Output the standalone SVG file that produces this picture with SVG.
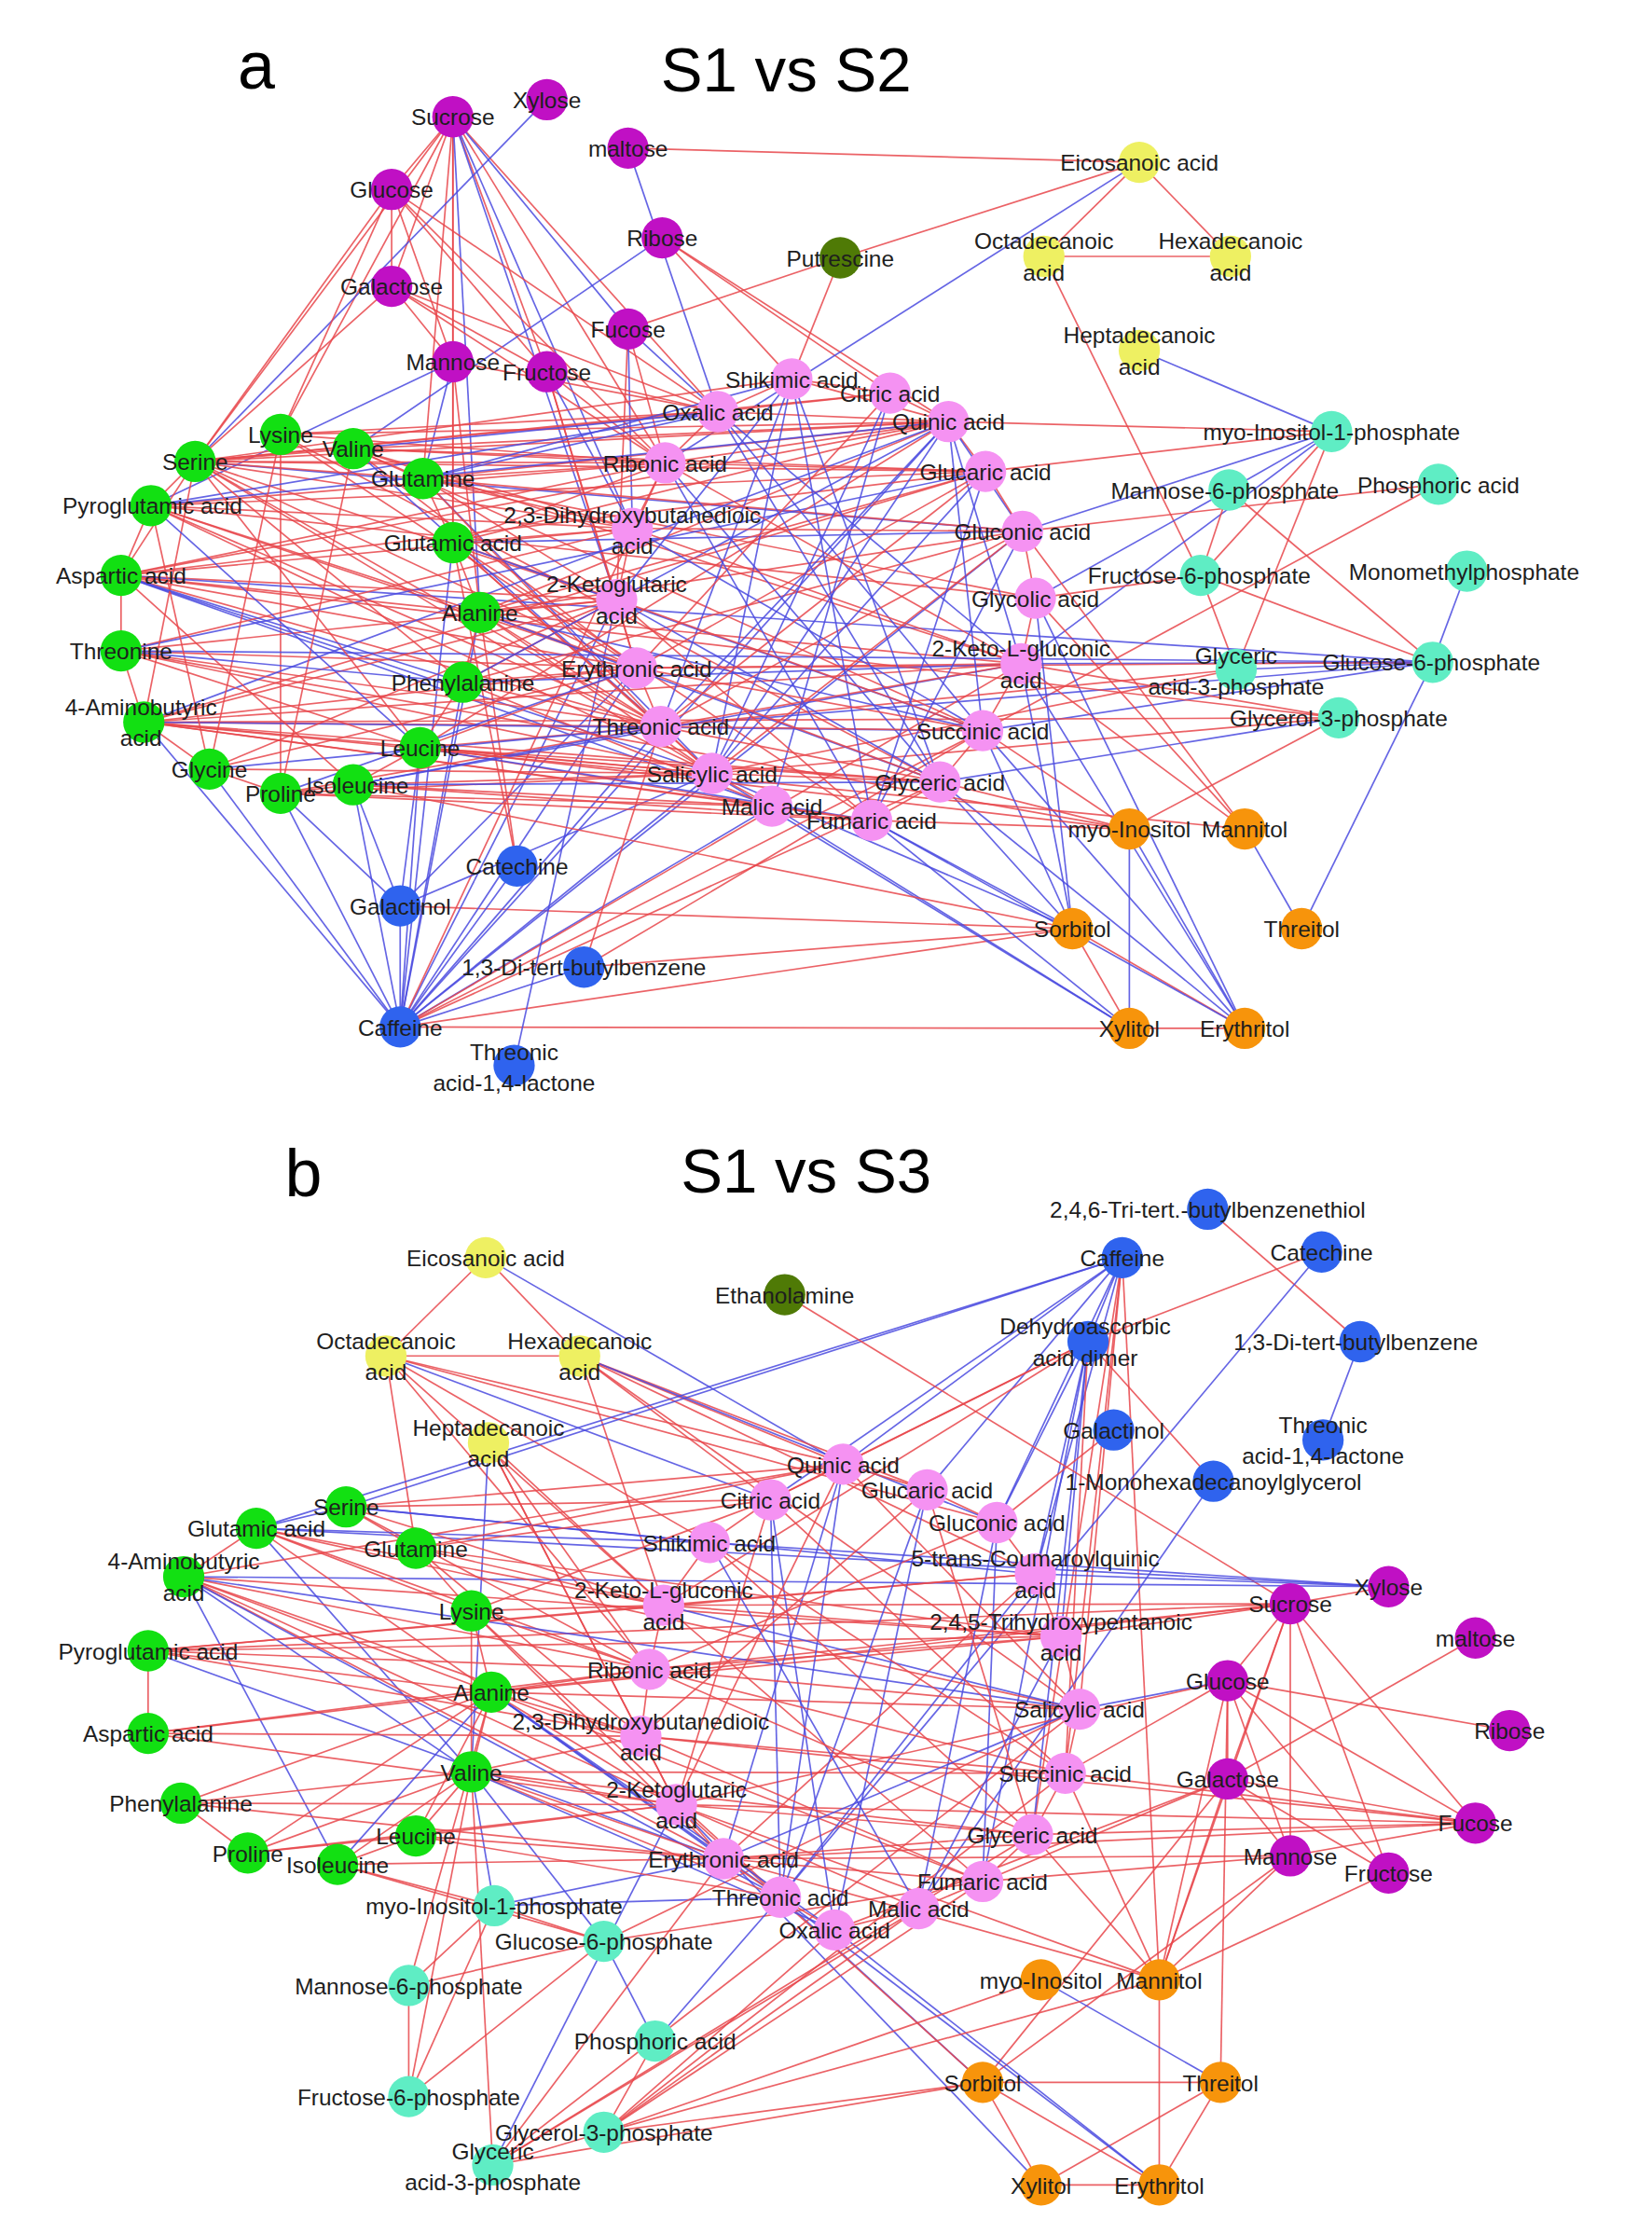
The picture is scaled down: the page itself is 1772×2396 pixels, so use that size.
<svg xmlns="http://www.w3.org/2000/svg" width="1772" height="2396" viewBox="0 0 1772 2396">
<style>
.r{stroke:#E8474B;stroke-opacity:.85;stroke-width:1.1;fill:none}
.b{stroke:#4A4ADF;stroke-opacity:.85;stroke-width:1.1;fill:none}
circle{stroke:none}
.mg{fill:#C010C4}.pk{fill:#F592F2}.gr{fill:#12E012}.bl{fill:#2F63EE}.or{fill:#F7940B}.cy{fill:#5FEDC4}.ye{fill:#EEF062}.dg{fill:#4F7A06}
text{font-family:"Liberation Sans",Arial,Helvetica,sans-serif;font-size:16px;fill:#1e1e1e;text-anchor:middle}
.t{font-size:44px;fill:#000}
</style>
<rect width="1772" height="2396" fill="#fff"/>
<g transform="scale(1.5276)">
<text class="t" x="180" y="62" style="font-size:47px">a</text>
<text class="t" x="552" y="64">S1 vs S2</text>
<text class="t" x="213" y="840" style="font-size:47px">b</text>
<text class="t" x="566" y="837">S1 vs S3</text>

<g id="edges-a">
<path class="r" d="M318 82L275 133"/><path class="r" d="M318 82L275 201"/><path class="r" d="M318 82L318 254"/><path class="r" d="M318 82L384 261"/><path class="r" d="M318 82L137 324"/><path class="r" d="M318 82L197 305"/><path class="r" d="M318 82L297 336"/><path class="r" d="M318 82L504 289"/><path class="r" d="M318 82L467 325"/><path class="r" d="M318 82L318 381"/>
<path class="b" d="M318 82L441 231"/><path class="b" d="M318 82L444 371"/><path class="b" d="M318 82L433 421"/><path class="b" d="M318 82L337 430"/>
<path class="b" d="M384 70L137 324"/><path class="r" d="M441 104L800 114"/><path class="b" d="M441 104L504 289"/>
<path class="r" d="M275 133L137 324"/><path class="r" d="M275 133L197 305"/><path class="r" d="M275 133L275 201"/><path class="r" d="M275 133L318 254"/><path class="r" d="M275 133L384 261"/><path class="r" d="M275 133L504 289"/><path class="r" d="M275 133L467 325"/>
<path class="b" d="M465 167L248 315"/><path class="r" d="M465 167L556 266"/><path class="r" d="M465 167L666 296"/><path class="r" d="M465 167L625 276"/>
<path class="r" d="M275 201L318 254"/><path class="r" d="M275 201L384 261"/><path class="r" d="M275 201L504 289"/><path class="r" d="M275 201L467 325"/><path class="r" d="M275 201L137 324"/>
<path class="r" d="M441 231L590 181"/><path class="b" d="M441 231L504 289"/><path class="r" d="M441 231L467 325"/><path class="r" d="M441 231L433 421"/><path class="b" d="M441 231L444 371"/>
<path class="b" d="M318 254L297 336"/><path class="r" d="M318 254L318 381"/><path class="r" d="M318 254L337 430"/><path class="b" d="M318 254L106 355"/><path class="r" d="M318 254L504 289"/>
<path class="r" d="M384 261L504 289"/><path class="b" d="M384 261L444 371"/><path class="r" d="M384 261L467 325"/><path class="r" d="M384 261L447 469"/><path class="r" d="M384 261L433 421"/>
<path class="r" d="M590 181L800 114"/><path class="r" d="M590 181L556 266"/>
<path class="r" d="M800 114L733 180"/><path class="r" d="M800 114L864 180"/><path class="b" d="M800 114L467 325"/>
<path class="r" d="M733 180L864 180"/><path class="r" d="M733 180L843 404"/><path class="b" d="M800 246L935 303"/>
<path class="r" d="M935 303L666 296"/><path class="r" d="M935 303L692 331"/><path class="b" d="M935 303L863 344"/><path class="b" d="M935 303L718 373"/><path class="r" d="M935 303L843 404"/><path class="b" d="M935 303L717 466"/><path class="r" d="M935 303L868 470"/>
<path class="r" d="M863 344L843 404"/><path class="r" d="M863 344L1006 465"/><path class="b" d="M863 344L727 420"/>
<path class="r" d="M1010 340L718 373"/><path class="r" d="M1010 340L690 513"/><path class="b" d="M1030 401L1006 465"/>
<path class="r" d="M843 404L868 470"/><path class="r" d="M843 404L1006 465"/><path class="r" d="M843 404L727 420"/>
<path class="b" d="M1006 465L868 470"/><path class="b" d="M1006 465L914 652"/><path class="b" d="M1006 465L717 466"/><path class="b" d="M1006 465L464 510"/><path class="r" d="M1006 465L447 469"/><path class="b" d="M1006 465L690 513"/>
<path class="r" d="M940 504L717 466"/><path class="r" d="M940 504L793 582"/><path class="r" d="M940 504L500 543"/><path class="b" d="M940 504L660 549"/><path class="r" d="M940 504L101 507"/>
<path class="r" d="M868 470L464 510"/><path class="r" d="M868 470L500 543"/>
<path class="b" d="M793 582L793 722"/><path class="b" d="M793 582L874 722"/><path class="b" d="M874 582L914 652"/>
<path class="r" d="M874 582L727 420"/><path class="r" d="M874 582L717 466"/><path class="r" d="M874 582L718 373"/>
<path class="r" d="M753 652L793 722"/><path class="r" d="M753 652L874 722"/><path class="r" d="M793 722L874 722"/><path class="r" d="M281 721L793 722"/>
<path class="r" d="M753 652L281 636"/><path class="r" d="M753 652L281 721"/><path class="r" d="M753 652L410 679"/>
<path class="r" d="M793 582L660 549"/><path class="r" d="M793 582L612 576"/><path class="r" d="M793 582L690 513"/>
<path class="b" d="M753 652L660 549"/><path class="b" d="M753 652L690 513"/><path class="b" d="M753 652L612 576"/><path class="b" d="M753 652L717 466"/><path class="b" d="M753 652L727 420"/><path class="b" d="M753 652L500 543"/>
<path class="b" d="M874 722L660 549"/><path class="b" d="M874 722L612 576"/><path class="b" d="M874 722L690 513"/><path class="b" d="M874 722L717 466"/><path class="b" d="M874 722L727 420"/>
<path class="b" d="M793 722L612 576"/><path class="b" d="M793 722L542 566"/><path class="b" d="M793 722L500 543"/>
<path class="b" d="M281 721L281 636"/><path class="b" d="M281 721L363 608"/><path class="b" d="M281 721L410 679"/><path class="b" d="M281 721L147 540"/><path class="b" d="M281 721L197 557"/><path class="b" d="M281 721L248 551"/><path class="b" d="M281 721L295 525"/><path class="b" d="M281 721L325 479"/><path class="b" d="M281 721L337 430"/><path class="b" d="M281 721L318 381"/><path class="b" d="M281 721L447 469"/><path class="b" d="M281 721L464 510"/><path class="b" d="M281 721L500 543"/><path class="b" d="M281 721L433 421"/><path class="b" d="M281 721L718 373"/><path class="b" d="M281 721L542 566"/><path class="b" d="M281 721L666 296"/><path class="b" d="M281 721L101 507"/>
<path class="r" d="M281 721L717 466"/><path class="r" d="M281 721L690 513"/><path class="r" d="M281 721L467 325"/><path class="r" d="M281 721L660 549"/>
<path class="b" d="M281 636L197 557"/><path class="b" d="M281 636L248 551"/><path class="b" d="M281 636L295 525"/><path class="b" d="M281 636L500 543"/><path class="b" d="M281 636L447 469"/>
<path class="b" d="M361 748L433 421"/><path class="r" d="M363 608L337 430"/><path class="r" d="M363 608L318 381"/><path class="r" d="M410 679L464 510"/><path class="r" d="M410 679L690 513"/>
<path class="r" d="M137 324L504 289"/><path class="r" d="M137 324L467 325"/><path class="r" d="M137 324L444 371"/><path class="r" d="M137 324L433 421"/><path class="r" d="M137 324L666 296"/><path class="r" d="M137 324L692 331"/><path class="r" d="M137 324L447 469"/><path class="r" d="M137 324L464 510"/><path class="r" d="M137 324L500 543"/><path class="b" d="M137 324L718 373"/><path class="r" d="M137 324L556 266"/><path class="r" d="M137 324L625 276"/>
<path class="r" d="M197 305L504 289"/><path class="r" d="M197 305L467 325"/><path class="r" d="M197 305L666 296"/><path class="r" d="M197 305L447 469"/><path class="r" d="M197 305L197 557"/><path class="r" d="M197 305L660 549"/>
<path class="b" d="M248 315L504 289"/><path class="r" d="M248 315L467 325"/><path class="r" d="M248 315L666 296"/><path class="r" d="M248 315L692 331"/><path class="r" d="M248 315L444 371"/><path class="r" d="M248 315L447 469"/><path class="b" d="M248 315L464 510"/><path class="r" d="M248 315L690 513"/><path class="r" d="M248 315L717 466"/>
<path class="b" d="M297 336L504 289"/><path class="r" d="M297 336L467 325"/><path class="r" d="M297 336L444 371"/><path class="r" d="M297 336L666 296"/><path class="r" d="M297 336L718 373"/><path class="r" d="M297 336L433 421"/><path class="b" d="M297 336L500 543"/><path class="r" d="M297 336L464 510"/><path class="r" d="M297 336L727 420"/><path class="b" d="M297 336L556 266"/>
<path class="r" d="M106 355L467 325"/><path class="b" d="M106 355L666 296"/><path class="r" d="M106 355L444 371"/><path class="r" d="M106 355L447 469"/><path class="r" d="M106 355L464 510"/><path class="r" d="M106 355L500 543"/><path class="r" d="M106 355L727 420"/><path class="b" d="M106 355L504 289"/><path class="r" d="M106 355L692 331"/>
<path class="r" d="M318 381L467 325"/><path class="r" d="M318 381L444 371"/><path class="r" d="M318 381L433 421"/><path class="r" d="M318 381L666 296"/><path class="b" d="M318 381L718 373"/><path class="r" d="M318 381L500 543"/><path class="r" d="M318 381L464 510"/><path class="r" d="M318 381L612 576"/><path class="b" d="M318 381L690 513"/>
<path class="r" d="M85 404L467 325"/><path class="r" d="M85 404L444 371"/><path class="r" d="M85 404L433 421"/><path class="r" d="M85 404L692 331"/><path class="r" d="M85 404L447 469"/><path class="r" d="M85 404L464 510"/><path class="b" d="M85 404L500 543"/><path class="b" d="M85 404L542 566"/><path class="r" d="M85 404L666 296"/><path class="b" d="M85 404L1006 465"/>
<path class="r" d="M337 430L666 296"/><path class="r" d="M337 430L433 421"/><path class="r" d="M337 430L447 469"/><path class="r" d="M337 430L464 510"/><path class="r" d="M337 430L500 543"/><path class="b" d="M337 430L660 549"/><path class="b" d="M337 430L690 513"/><path class="r" d="M337 430L717 466"/><path class="r" d="M337 430L692 331"/><path class="r" d="M337 430L718 373"/>
<path class="r" d="M85 457L444 371"/><path class="r" d="M85 457L447 469"/><path class="r" d="M85 457L464 510"/><path class="r" d="M85 457L500 543"/><path class="b" d="M85 457L692 331"/><path class="b" d="M85 457L1006 465"/><path class="r" d="M85 457L433 421"/>
<path class="r" d="M325 479L433 421"/><path class="r" d="M325 479L447 469"/><path class="r" d="M325 479L464 510"/><path class="r" d="M325 479L542 566"/><path class="b" d="M325 479L717 466"/><path class="r" d="M325 479L718 373"/><path class="b" d="M325 479L666 296"/>
<path class="r" d="M101 507L464 510"/><path class="r" d="M101 507L500 543"/><path class="r" d="M101 507L447 469"/><path class="r" d="M101 507L433 421"/><path class="r" d="M101 507L660 549"/><path class="r" d="M101 507L542 566"/><path class="b" d="M101 507L690 513"/><path class="r" d="M101 507L612 576"/><path class="r" d="M101 507L717 466"/><path class="b" d="M101 507L666 296"/><path class="r" d="M101 507L692 331"/>
<path class="r" d="M295 525L464 510"/><path class="r" d="M295 525L500 543"/><path class="r" d="M295 525L542 566"/><path class="r" d="M295 525L447 469"/><path class="r" d="M295 525L660 549"/><path class="b" d="M295 525L612 576"/><path class="r" d="M295 525L666 296"/>
<path class="b" d="M147 540L464 510"/><path class="r" d="M147 540L500 543"/><path class="r" d="M147 540L447 469"/><path class="r" d="M147 540L433 421"/>
<path class="r" d="M197 557L500 543"/><path class="r" d="M197 557L464 510"/><path class="r" d="M197 557L542 566"/><path class="r" d="M197 557L612 576"/><path class="b" d="M197 557L447 469"/>
<path class="r" d="M248 551L500 543"/><path class="r" d="M248 551L542 566"/><path class="r" d="M248 551L612 576"/><path class="b" d="M248 551L464 510"/><path class="b" d="M248 551L660 549"/><path class="r" d="M248 551L753 652"/><path class="b" d="M248 551L717 466"/>
<path class="r" d="M295 525L793 582"/><path class="r" d="M101 507L874 582"/><path class="r" d="M85 457L793 582"/><path class="r" d="M85 404L940 504"/>
<path class="r" d="M137 324L106 355"/><path class="r" d="M137 324L297 336"/><path class="r" d="M137 324L85 404"/><path class="r" d="M106 355L85 404"/><path class="r" d="M85 404L85 457"/><path class="r" d="M85 457L101 507"/><path class="r" d="M137 324L101 507"/><path class="r" d="M101 507L147 540"/><path class="r" d="M106 355L147 540"/><path class="r" d="M318 381L337 430"/><path class="r" d="M337 430L325 479"/><path class="r" d="M325 479L295 525"/><path class="r" d="M295 525L248 551"/><path class="r" d="M197 557L248 551"/><path class="r" d="M248 315L297 336"/><path class="r" d="M297 336L318 381"/><path class="r" d="M137 324L295 525"/><path class="r" d="M85 404L248 551"/><path class="r" d="M85 457L295 525"/><path class="r" d="M147 540L197 557"/><path class="r" d="M248 315L197 557"/><path class="r" d="M197 305L147 540"/><path class="r" d="M137 324L325 479"/><path class="r" d="M106 355L337 430"/><path class="r" d="M85 404L337 430"/><path class="b" d="M85 457L325 479"/><path class="r" d="M137 324L248 315"/><path class="b" d="M106 355L295 525"/><path class="b" d="M85 404L325 479"/>
<path class="r" d="M504 289L556 266"/><path class="r" d="M504 289L625 276"/><path class="r" d="M504 289L666 296"/><path class="r" d="M556 266L666 296"/><path class="r" d="M556 266L625 276"/><path class="r" d="M625 276L666 296"/><path class="r" d="M666 296L692 331"/><path class="b" d="M666 296L718 373"/><path class="b" d="M666 296L717 466"/><path class="r" d="M692 331L718 373"/><path class="r" d="M718 373L727 420"/><path class="r" d="M727 420L717 466"/><path class="r" d="M717 466L690 513"/><path class="r" d="M690 513L660 549"/><path class="r" d="M660 549L612 576"/><path class="r" d="M612 576L542 566"/><path class="r" d="M542 566L500 543"/><path class="r" d="M500 543L464 510"/><path class="r" d="M464 510L447 469"/><path class="r" d="M447 469L433 421"/><path class="r" d="M433 421L444 371"/><path class="r" d="M444 371L467 325"/><path class="r" d="M467 325L504 289"/><path class="r" d="M467 325L666 296"/>
<path class="b" d="M504 289L717 466"/><path class="b" d="M504 289L690 513"/><path class="b" d="M467 325L660 549"/><path class="b" d="M444 371L690 513"/><path class="b" d="M433 421L660 549"/><path class="b" d="M666 296L464 510"/><path class="b" d="M666 296L500 543"/><path class="b" d="M556 266L464 510"/><path class="b" d="M556 266L500 543"/>
<path class="r" d="M625 276L447 469"/><path class="r" d="M692 331L447 469"/><path class="r" d="M692 331L464 510"/><path class="r" d="M718 373L464 510"/><path class="r" d="M718 373L500 543"/><path class="r" d="M717 466L447 469"/><path class="r" d="M717 466L464 510"/><path class="r" d="M690 513L464 510"/><path class="r" d="M467 325L717 466"/><path class="r" d="M444 371L717 466"/>
<path class="b" d="M666 296L690 513"/><path class="b" d="M692 331L612 576"/><path class="b" d="M718 373L612 576"/><path class="b" d="M556 266L612 576"/><path class="b" d="M625 276L542 566"/><path class="b" d="M504 289L660 549"/><path class="b" d="M467 325L612 576"/><path class="b" d="M556 266L660 549"/><path class="b" d="M625 276L500 543"/><path class="b" d="M692 331L500 543"/>
<path class="r" d="M433 421L690 513"/><path class="r" d="M447 469L690 513"/><path class="r" d="M444 371L718 373"/><path class="r" d="M467 325L692 331"/><path class="r" d="M447 469L660 549"/><path class="r" d="M464 510L660 549"/><path class="r" d="M500 543L660 549"/><path class="r" d="M433 421L612 576"/><path class="b" d="M556 266L433 421"/>
</g>

<g id="edges-b">
<path class="r" d="M341 883L271 952"/><path class="r" d="M341 883L407 952"/><path class="b" d="M341 883L592 1028"/>
<path class="r" d="M271 952L407 952"/><path class="r" d="M271 952L292 1087"/><path class="b" d="M271 952L541 1053"/><path class="r" d="M271 952L498 1083"/><path class="r" d="M271 952L466 1127"/><path class="r" d="M271 952L456 1172"/><path class="r" d="M271 952L592 1028"/><path class="r" d="M271 952L700 1069"/>
<path class="r" d="M407 952L541 1053"/><path class="r" d="M407 952L592 1028"/><path class="r" d="M407 952L651 1046"/><path class="b" d="M407 952L700 1069"/><path class="r" d="M407 952L727 1105"/><path class="r" d="M407 952L758 1200"/><path class="r" d="M407 952L466 1127"/>
<path class="b" d="M343 1013L331 1244"/><path class="r" d="M343 1013L466 1127"/><path class="r" d="M343 1013L456 1172"/><path class="r" d="M343 1013L450 1219"/><path class="r" d="M343 1013L475 1267"/>
<path class="b" d="M788 883L243 1058"/><path class="b" d="M788 883L180 1073"/><path class="b" d="M788 883L764 942"/><path class="b" d="M788 883L592 1028"/><path class="b" d="M788 883L541 1053"/><path class="b" d="M788 883L651 1046"/><path class="b" d="M788 883L700 1069"/><path class="b" d="M788 883L727 1105"/><path class="r" d="M788 883L758 1200"/><path class="r" d="M788 883L748 1245"/><path class="r" d="M788 883L814 1390"/><path class="r" d="M788 883L725 1288"/>
<path class="r" d="M848 849L955 942"/><path class="r" d="M928 879L764 942"/><path class="b" d="M928 879L548 1332"/><path class="b" d="M955 942L929 1011"/>
<path class="r" d="M764 942L852 1040"/><path class="r" d="M764 942L466 1127"/><path class="r" d="M764 942L541 1053"/><path class="r" d="M764 942L592 1028"/><path class="b" d="M764 942L700 1069"/><path class="b" d="M764 942L725 1288"/><path class="b" d="M764 942L745 1149"/><path class="r" d="M764 942L748 1245"/><path class="b" d="M764 942L727 1105"/><path class="b" d="M764 942L690 1321"/>
<path class="r" d="M551 909L906 1126"/><path class="r" d="M782 1004L700 1069"/><path class="b" d="M852 1040L645 1340"/>
<path class="r" d="M906 1126L975 1114"/><path class="r" d="M906 1126L862 1180"/><path class="r" d="M906 1126L862 1249"/><path class="r" d="M906 1126L906 1303"/><path class="r" d="M906 1126L975 1315"/><path class="r" d="M906 1126L1036 1280"/><path class="r" d="M906 1126L814 1390"/><path class="r" d="M906 1126L745 1149"/><path class="r" d="M906 1126L466 1127"/><path class="r" d="M906 1126L456 1172"/><path class="r" d="M906 1126L345 1188"/><path class="r" d="M906 1126L104 1159"/>
<path class="b" d="M975 1114L727 1105"/><path class="b" d="M975 1114L498 1083"/><path class="b" d="M975 1114L129 1107"/><path class="b" d="M975 1114L180 1073"/>
<path class="r" d="M1036 1150L862 1249"/><path class="r" d="M862 1180L862 1249"/><path class="r" d="M862 1180L906 1303"/><path class="r" d="M862 1180L975 1315"/><path class="r" d="M862 1180L1036 1280"/><path class="r" d="M862 1180L1060 1215"/><path class="b" d="M862 1180L758 1200"/><path class="r" d="M862 1180L857 1462"/><path class="r" d="M862 1180L814 1390"/><path class="r" d="M862 1180L748 1245"/><path class="r" d="M862 1180L475 1267"/>
<path class="r" d="M862 1249L906 1303"/><path class="r" d="M862 1249L1036 1280"/><path class="r" d="M862 1249L975 1315"/><path class="r" d="M862 1249L814 1390"/><path class="r" d="M862 1249L690 1462"/><path class="r" d="M862 1249L586 1355"/><path class="r" d="M862 1249L690 1321"/>
<path class="r" d="M906 1303L1036 1280"/><path class="r" d="M906 1303L814 1390"/><path class="r" d="M906 1303L508 1305"/><path class="r" d="M906 1303L690 1321"/><path class="r" d="M906 1303L690 1462"/><path class="r" d="M975 1315L814 1390"/>
<path class="r" d="M1036 1280L725 1288"/><path class="r" d="M1036 1280L475 1267"/><path class="r" d="M1036 1280L450 1219"/><path class="r" d="M1036 1280L508 1305"/><path class="r" d="M1036 1280L748 1245"/>
<path class="r" d="M690 1462L857 1462"/><path class="r" d="M690 1462L731 1534"/><path class="r" d="M690 1462L814 1534"/><path class="r" d="M731 1534L814 1534"/><path class="r" d="M731 1534L857 1462"/><path class="r" d="M814 1534L857 1462"/><path class="r" d="M814 1390L814 1534"/><path class="b" d="M731 1390L857 1462"/>
<path class="b" d="M690 1462L548 1332"/><path class="b" d="M814 1534L548 1332"/><path class="b" d="M814 1534L586 1355"/><path class="b" d="M731 1534L475 1267"/>
<path class="r" d="M731 1390L424 1497"/><path class="r" d="M814 1390L424 1497"/><path class="r" d="M690 1462L424 1497"/><path class="r" d="M690 1462L346 1520"/><path class="r" d="M814 1390L475 1267"/><path class="r" d="M814 1390L725 1288"/><path class="r" d="M814 1390L508 1305"/><path class="r" d="M690 1462L475 1267"/><path class="r" d="M814 1390L748 1245"/>
<path class="r" d="M347 1338L424 1363"/><path class="r" d="M347 1338L287 1394"/><path class="b" d="M347 1338L548 1332"/><path class="b" d="M347 1338L508 1305"/><path class="r" d="M347 1338L237 1309"/><path class="b" d="M347 1338L331 1244"/>
<path class="r" d="M424 1363L287 1394"/><path class="r" d="M424 1363L287 1472"/><path class="b" d="M424 1363L460 1433"/><path class="r" d="M424 1363L690 1321"/><path class="r" d="M424 1363L237 1309"/><path class="r" d="M424 1363L758 1200"/><path class="b" d="M424 1363L331 1244"/>
<path class="r" d="M287 1394L287 1472"/><path class="r" d="M287 1394L345 1188"/><path class="r" d="M287 1472L331 1244"/><path class="r" d="M287 1472L347 1338"/>
<path class="b" d="M460 1433L548 1332"/><path class="r" d="M460 1433L424 1497"/>
<path class="r" d="M424 1497L346 1520"/><path class="r" d="M424 1497L690 1321"/><path class="r" d="M424 1497L645 1340"/><path class="r" d="M424 1497L586 1355"/><path class="r" d="M424 1497L748 1245"/>
<path class="r" d="M346 1520L508 1305"/><path class="r" d="M346 1520L725 1288"/><path class="r" d="M346 1520L645 1340"/><path class="r" d="M346 1520L758 1200"/><path class="b" d="M346 1520L475 1267"/><path class="r" d="M346 1520L331 1244"/>
<path class="b" d="M243 1058L180 1073"/><path class="r" d="M243 1058L292 1087"/><path class="r" d="M243 1058L541 1053"/><path class="b" d="M243 1058L498 1083"/><path class="r" d="M243 1058L592 1028"/><path class="b" d="M243 1058L727 1105"/><path class="r" d="M243 1058L466 1127"/><path class="r" d="M243 1058L456 1172"/>
<path class="r" d="M180 1073L129 1107"/><path class="b" d="M180 1073L498 1083"/><path class="r" d="M180 1073L466 1127"/><path class="r" d="M180 1073L456 1172"/><path class="r" d="M180 1073L345 1188"/><path class="b" d="M180 1073L331 1244"/><path class="r" d="M180 1073L758 1200"/><path class="r" d="M180 1073L331 1131"/>
<path class="r" d="M292 1087L541 1053"/><path class="r" d="M292 1087L466 1127"/><path class="r" d="M292 1087L331 1131"/><path class="r" d="M292 1087L450 1219"/><path class="r" d="M292 1087L745 1149"/><path class="r" d="M292 1087L592 1028"/>
<path class="r" d="M129 1107L456 1172"/><path class="r" d="M129 1107L475 1267"/><path class="r" d="M129 1107L450 1219"/><path class="r" d="M129 1107L508 1305"/><path class="b" d="M129 1107L548 1332"/><path class="b" d="M129 1107L758 1200"/><path class="b" d="M129 1107L331 1244"/><path class="b" d="M129 1107L237 1309"/><path class="r" d="M129 1107L345 1188"/><path class="r" d="M129 1107L745 1149"/><path class="r" d="M129 1107L592 1028"/>
<path class="r" d="M331 1131L466 1127"/><path class="r" d="M331 1131L456 1172"/><path class="r" d="M331 1131L345 1188"/><path class="r" d="M331 1131L508 1305"/><path class="r" d="M331 1131L548 1332"/><path class="r" d="M331 1131L331 1244"/><path class="r" d="M331 1131L541 1053"/>
<path class="r" d="M104 1159L104 1217"/><path class="r" d="M104 1159L456 1172"/><path class="r" d="M104 1159L450 1219"/><path class="r" d="M104 1159L745 1149"/><path class="r" d="M104 1159L727 1105"/><path class="r" d="M104 1159L345 1188"/><path class="b" d="M104 1159L508 1305"/><path class="r" d="M104 1159L466 1127"/>
<path class="r" d="M345 1188L456 1172"/><path class="r" d="M345 1188L450 1219"/><path class="r" d="M345 1188L475 1267"/><path class="r" d="M345 1188L745 1149"/><path class="r" d="M345 1188L758 1200"/><path class="r" d="M345 1188L331 1244"/><path class="b" d="M345 1188L508 1305"/><path class="b" d="M345 1188L548 1332"/><path class="b" d="M345 1188L586 1355"/><path class="r" d="M345 1188L690 1321"/><path class="r" d="M345 1188L127 1266"/><path class="r" d="M345 1188L174 1301"/>
<path class="r" d="M104 1217L450 1219"/><path class="r" d="M104 1217L456 1172"/><path class="r" d="M104 1217L345 1188"/><path class="r" d="M104 1217L475 1267"/>
<path class="r" d="M331 1244L475 1267"/><path class="r" d="M331 1244L508 1305"/><path class="r" d="M331 1244L548 1332"/><path class="r" d="M331 1244L450 1219"/><path class="r" d="M331 1244L748 1245"/><path class="r" d="M331 1244L174 1301"/><path class="r" d="M331 1244L292 1289"/><path class="r" d="M331 1244L237 1309"/><path class="r" d="M331 1244L127 1266"/><path class="b" d="M331 1244L586 1355"/><path class="r" d="M331 1244L725 1288"/>
<path class="r" d="M127 1266L508 1305"/><path class="r" d="M127 1266L475 1267"/><path class="r" d="M127 1266L174 1301"/>
<path class="r" d="M292 1289L508 1305"/><path class="r" d="M292 1289L548 1332"/><path class="r" d="M292 1289L475 1267"/><path class="r" d="M292 1289L174 1301"/><path class="r" d="M292 1289L237 1309"/><path class="r" d="M292 1289L345 1188"/><path class="r" d="M174 1301L475 1267"/><path class="b" d="M237 1309L345 1188"/><path class="r" d="M237 1309L508 1305"/>
<path class="r" d="M592 1028L541 1053"/><path class="r" d="M592 1028L651 1046"/><path class="r" d="M651 1046L700 1069"/><path class="r" d="M700 1069L727 1105"/><path class="r" d="M541 1053L498 1083"/><path class="r" d="M498 1083L466 1127"/><path class="r" d="M466 1127L456 1172"/><path class="r" d="M456 1172L450 1219"/><path class="r" d="M450 1219L475 1267"/><path class="r" d="M475 1267L508 1305"/><path class="r" d="M508 1305L548 1332"/><path class="r" d="M548 1332L586 1355"/><path class="r" d="M586 1355L645 1340"/><path class="r" d="M645 1340L690 1321"/><path class="r" d="M690 1321L725 1288"/><path class="r" d="M725 1288L748 1245"/><path class="r" d="M748 1245L758 1200"/><path class="r" d="M758 1200L745 1149"/><path class="r" d="M745 1149L727 1105"/>
<path class="b" d="M592 1028L508 1305"/><path class="b" d="M592 1028L548 1332"/><path class="b" d="M541 1053L548 1332"/><path class="b" d="M541 1053L586 1355"/><path class="b" d="M651 1046L586 1355"/><path class="b" d="M700 1069L645 1340"/><path class="b" d="M700 1069L690 1321"/><path class="b" d="M727 1105L548 1332"/><path class="r" d="M727 1105L508 1305"/><path class="r" d="M745 1149L456 1172"/><path class="r" d="M745 1149L466 1127"/><path class="r" d="M758 1200L456 1172"/><path class="r" d="M748 1245L456 1172"/><path class="r" d="M748 1245L450 1219"/><path class="r" d="M725 1288L508 1305"/><path class="r" d="M725 1288L475 1267"/><path class="r" d="M690 1321L508 1305"/><path class="b" d="M758 1200L466 1127"/><path class="r" d="M748 1245L498 1083"/><path class="r" d="M725 1288L498 1083"/><path class="r" d="M592 1028L475 1267"/><path class="r" d="M541 1053L475 1267"/><path class="r" d="M651 1046L450 1219"/><path class="r" d="M700 1069L456 1172"/><path class="r" d="M727 1105L466 1127"/><path class="b" d="M651 1046L548 1332"/><path class="b" d="M498 1083L645 1340"/><path class="r" d="M466 1127L690 1321"/><path class="r" d="M456 1172L725 1288"/><path class="r" d="M450 1219L690 1321"/><path class="r" d="M475 1267L645 1340"/><path class="b" d="M758 1200L508 1305"/><path class="b" d="M745 1149L645 1340"/><path class="r" d="M592 1028L758 1200"/><path class="r" d="M541 1053L748 1245"/><path class="r" d="M651 1046L725 1288"/>
</g>

<g id="nodes-a">
<g id="a-sucrose"><circle class="mg" cx="318" cy="82" r="14.5"/><text x="318" y="88">Sucrose</text></g>
<g id="a-xylose"><circle class="mg" cx="384" cy="70" r="14.5"/><text x="384" y="76">Xylose</text></g>
<g id="a-maltose"><circle class="mg" cx="441" cy="104" r="14.5"/><text x="441" y="110">maltose</text></g>
<g id="a-glucose"><circle class="mg" cx="275" cy="133" r="14.5"/><text x="275" y="139">Glucose</text></g>
<g id="a-ribose"><circle class="mg" cx="465" cy="167" r="14.5"/><text x="465" y="173">Ribose</text></g>
<g id="a-galactose"><circle class="mg" cx="275" cy="201" r="14.5"/><text x="275" y="207">Galactose</text></g>
<g id="a-fucose"><circle class="mg" cx="441" cy="231" r="14.5"/><text x="441" y="237">Fucose</text></g>
<g id="a-mannose"><circle class="mg" cx="318" cy="254" r="14.5"/><text x="318" y="260">Mannose</text></g>
<g id="a-fructose"><circle class="mg" cx="384" cy="261" r="14.5"/><text x="384" y="267">Fructose</text></g>
<g id="a-putrescine"><circle class="dg" cx="590" cy="181" r="14.5"/><text x="590" y="187">Putrescine</text></g>
<g id="a-eicosanoic"><circle class="ye" cx="800" cy="114" r="14.5"/><text x="800" y="120">Eicosanoic acid</text></g>
<g id="a-octadecanoic"><circle class="ye" cx="733" cy="180" r="14.5"/><text x="733" y="175">Octadecanoic<tspan x="733" dy="22">acid</tspan></text></g>
<g id="a-hexadecanoic"><circle class="ye" cx="864" cy="180" r="14.5"/><text x="864" y="175">Hexadecanoic<tspan x="864" dy="22">acid</tspan></text></g>
<g id="a-heptadecanoic"><circle class="ye" cx="800" cy="246" r="14.5"/><text x="800" y="241">Heptadecanoic<tspan x="800" dy="22">acid</tspan></text></g>
<g id="a-mi1p"><circle class="cy" cx="935" cy="303" r="14.5"/><text x="935" y="309">myo-Inositol-1-phosphate</text></g>
<g id="a-m6p"><circle class="cy" cx="863" cy="344" r="14.5"/><text x="860" y="350">Mannose-6-phosphate</text></g>
<g id="a-phosphoric"><circle class="cy" cx="1010" cy="340" r="14.5"/><text x="1010" y="346">Phosphoric acid</text></g>
<g id="a-mmp"><circle class="cy" cx="1030" cy="401" r="14.5"/><text x="1028" y="407">Monomethylphosphate</text></g>
<g id="a-f6p"><circle class="cy" cx="843" cy="404" r="14.5"/><text x="842" y="410">Fructose-6-phosphate</text></g>
<g id="a-ga3p"><circle class="cy" cx="868" cy="470" r="14.5"/><text x="868" y="466">Glyceric<tspan x="868" dy="22">acid-3-phosphate</tspan></text></g>
<g id="a-g6p"><circle class="cy" cx="1006" cy="465" r="14.5"/><text x="1005" y="471">Glucose-6-phosphate</text></g>
<g id="a-g3p"><circle class="cy" cx="940" cy="504" r="14.5"/><text x="940" y="510">Glycerol-3-phosphate</text></g>
<g id="a-myoinositol"><circle class="or" cx="793" cy="582" r="14.5"/><text x="793" y="588">myo-Inositol</text></g>
<g id="a-mannitol"><circle class="or" cx="874" cy="582" r="14.5"/><text x="874" y="588">Mannitol</text></g>
<g id="a-sorbitol"><circle class="or" cx="753" cy="652" r="14.5"/><text x="753" y="658">Sorbitol</text></g>
<g id="a-threitol"><circle class="or" cx="914" cy="652" r="14.5"/><text x="914" y="658">Threitol</text></g>
<g id="a-xylitol"><circle class="or" cx="793" cy="722" r="14.5"/><text x="793" y="728">Xylitol</text></g>
<g id="a-erythritol"><circle class="or" cx="874" cy="722" r="14.5"/><text x="874" y="728">Erythritol</text></g>
<g id="a-catechine"><circle class="bl" cx="363" cy="608" r="14.5"/><text x="363" y="614">Catechine</text></g>
<g id="a-galactinol"><circle class="bl" cx="281" cy="636" r="14.5"/><text x="281" y="642">Galactinol</text></g>
<g id="a-dtb"><circle class="bl" cx="410" cy="679" r="14.5"/><text x="410" y="685">1,3-Di-tert-butylbenzene</text></g>
<g id="a-caffeine"><circle class="bl" cx="281" cy="721" r="14.5"/><text x="281" y="727">Caffeine</text></g>
<g id="a-tal"><circle class="bl" cx="361" cy="748" r="14.5"/><text x="361" y="744">Threonic<tspan x="361" dy="22">acid-1,4-lactone</tspan></text></g>
<g id="a-lysine"><circle class="gr" cx="197" cy="305" r="14.5"/><text x="197" y="311">Lysine</text></g>
<g id="a-valine"><circle class="gr" cx="248" cy="315" r="14.5"/><text x="248" y="321">Valine</text></g>
<g id="a-serine"><circle class="gr" cx="137" cy="324" r="14.5"/><text x="137" y="330">Serine</text></g>
<g id="a-glutamine"><circle class="gr" cx="297" cy="336" r="14.5"/><text x="297" y="342">Glutamine</text></g>
<g id="a-pyroglutamic"><circle class="gr" cx="106" cy="355" r="14.5"/><text x="107" y="361">Pyroglutamic acid</text></g>
<g id="a-glutamic"><circle class="gr" cx="318" cy="381" r="14.5"/><text x="318" y="387">Glutamic acid</text></g>
<g id="a-aspartic"><circle class="gr" cx="85" cy="404" r="14.5"/><text x="85" y="410">Aspartic acid</text></g>
<g id="a-alanine"><circle class="gr" cx="337" cy="430" r="14.5"/><text x="337" y="436">Alanine</text></g>
<g id="a-threonine"><circle class="gr" cx="85" cy="457" r="14.5"/><text x="85" y="463">Threonine</text></g>
<g id="a-phenylalanine"><circle class="gr" cx="325" cy="479" r="14.5"/><text x="325" y="485">Phenylalanine</text></g>
<g id="a-gaba"><circle class="gr" cx="101" cy="507" r="14.5"/><text x="99" y="502">4-Aminobutyric<tspan x="99" dy="22">acid</tspan></text></g>
<g id="a-leucine"><circle class="gr" cx="295" cy="525" r="14.5"/><text x="295" y="531">Leucine</text></g>
<g id="a-glycine"><circle class="gr" cx="147" cy="540" r="14.5"/><text x="147" y="546">Glycine</text></g>
<g id="a-proline"><circle class="gr" cx="197" cy="557" r="14.5"/><text x="197" y="563">Proline</text></g>
<g id="a-isoleucine"><circle class="gr" cx="248" cy="551" r="14.5"/><text x="251" y="557">Isoleucine</text></g>
<g id="a-shikimic"><circle class="pk" cx="556" cy="266" r="14.5"/><text x="556" y="272">Shikimic acid</text></g>
<g id="a-citric"><circle class="pk" cx="625" cy="276" r="14.5"/><text x="625" y="282">Citric acid</text></g>
<g id="a-oxalic"><circle class="pk" cx="504" cy="289" r="14.5"/><text x="504" y="295">Oxalic acid</text></g>
<g id="a-quinic"><circle class="pk" cx="666" cy="296" r="14.5"/><text x="666" y="302">Quinic acid</text></g>
<g id="a-ribonic"><circle class="pk" cx="467" cy="325" r="14.5"/><text x="467" y="331">Ribonic acid</text></g>
<g id="a-glucaric"><circle class="pk" cx="692" cy="331" r="14.5"/><text x="692" y="337">Glucaric acid</text></g>
<g id="a-dhb"><circle class="pk" cx="444" cy="371" r="14.5"/><text x="444" y="367">2,3-Dihydroxybutanedioic<tspan x="444" dy="22">acid</tspan></text></g>
<g id="a-gluconic"><circle class="pk" cx="718" cy="373" r="14.5"/><text x="718" y="379">Gluconic acid</text></g>
<g id="a-ketoglutaric"><circle class="pk" cx="433" cy="421" r="14.5"/><text x="433" y="416">2-Ketoglutaric<tspan x="433" dy="22">acid</tspan></text></g>
<g id="a-glycolic"><circle class="pk" cx="727" cy="420" r="14.5"/><text x="727" y="426">Glycolic acid</text></g>
<g id="a-erythronic"><circle class="pk" cx="447" cy="469" r="14.5"/><text x="447" y="475">Erythronic acid</text></g>
<g id="a-ketogluconic"><circle class="pk" cx="717" cy="466" r="14.5"/><text x="717" y="461">2-Keto-L-gluconic<tspan x="717" dy="22">acid</tspan></text></g>
<g id="a-threonic"><circle class="pk" cx="464" cy="510" r="14.5"/><text x="464" y="516">Threonic acid</text></g>
<g id="a-succinic"><circle class="pk" cx="690" cy="513" r="14.5"/><text x="690" y="519">Succinic acid</text></g>
<g id="a-salicylic"><circle class="pk" cx="500" cy="543" r="14.5"/><text x="500" y="549">Salicylic acid</text></g>
<g id="a-glyceric"><circle class="pk" cx="660" cy="549" r="14.5"/><text x="660" y="555">Glyceric acid</text></g>
<g id="a-malic"><circle class="pk" cx="542" cy="566" r="14.5"/><text x="542" y="572">Malic acid</text></g>
<g id="a-fumaric"><circle class="pk" cx="612" cy="576" r="14.5"/><text x="612" y="582">Fumaric acid</text></g>
</g>

<g id="nodes-b">
<g id="b-ttb"><circle class="bl" cx="848" cy="849" r="14.5"/><text x="848" y="855">2,4,6-Tri-tert.-butylbenzenethiol</text></g>
<g id="b-caffeine"><circle class="bl" cx="788" cy="883" r="14.5"/><text x="788" y="889">Caffeine</text></g>
<g id="b-catechine"><circle class="bl" cx="928" cy="879" r="14.5"/><text x="928" y="885">Catechine</text></g>
<g id="b-dha"><circle class="bl" cx="764" cy="942" r="14.5"/><text x="762" y="937">Dehydroascorbic<tspan x="762" dy="22">acid dimer</tspan></text></g>
<g id="b-dtb"><circle class="bl" cx="955" cy="942" r="14.5"/><text x="952" y="948">1,3-Di-tert-butylbenzene</text></g>
<g id="b-galactinol"><circle class="bl" cx="782" cy="1004" r="14.5"/><text x="782" y="1010">Galactinol</text></g>
<g id="b-tal"><circle class="bl" cx="929" cy="1011" r="14.5"/><text x="929" y="1006">Threonic<tspan x="929" dy="22">acid-1,4-lactone</tspan></text></g>
<g id="b-mhg"><circle class="bl" cx="852" cy="1040" r="14.5"/><text x="852" y="1046">1-Monohexadecanoylglycerol</text></g>
<g id="b-ethanolamine"><circle class="dg" cx="551" cy="909" r="14.5"/><text x="551" y="915">Ethanolamine</text></g>
<g id="b-eicosanoic"><circle class="ye" cx="341" cy="883" r="14.5"/><text x="341" y="889">Eicosanoic acid</text></g>
<g id="b-octadecanoic"><circle class="ye" cx="271" cy="952" r="14.5"/><text x="271" y="947">Octadecanoic<tspan x="271" dy="22">acid</tspan></text></g>
<g id="b-hexadecanoic"><circle class="ye" cx="407" cy="952" r="14.5"/><text x="407" y="947">Hexadecanoic<tspan x="407" dy="22">acid</tspan></text></g>
<g id="b-heptadecanoic"><circle class="ye" cx="343" cy="1013" r="14.5"/><text x="343" y="1008">Heptadecanoic<tspan x="343" dy="22">acid</tspan></text></g>
<g id="b-serine"><circle class="gr" cx="243" cy="1058" r="14.5"/><text x="243" y="1064">Serine</text></g>
<g id="b-glutamic"><circle class="gr" cx="180" cy="1073" r="14.5"/><text x="180" y="1079">Glutamic acid</text></g>
<g id="b-glutamine"><circle class="gr" cx="292" cy="1087" r="14.5"/><text x="292" y="1093">Glutamine</text></g>
<g id="b-gaba"><circle class="gr" cx="129" cy="1107" r="14.5"/><text x="129" y="1102">4-Aminobutyric<tspan x="129" dy="22">acid</tspan></text></g>
<g id="b-lysine"><circle class="gr" cx="331" cy="1131" r="14.5"/><text x="331" y="1137">Lysine</text></g>
<g id="b-pyroglutamic"><circle class="gr" cx="104" cy="1159" r="14.5"/><text x="104" y="1165">Pyroglutamic acid</text></g>
<g id="b-alanine"><circle class="gr" cx="345" cy="1188" r="14.5"/><text x="345" y="1194">Alanine</text></g>
<g id="b-aspartic"><circle class="gr" cx="104" cy="1217" r="14.5"/><text x="104" y="1223">Aspartic acid</text></g>
<g id="b-valine"><circle class="gr" cx="331" cy="1244" r="14.5"/><text x="331" y="1250">Valine</text></g>
<g id="b-phenylalanine"><circle class="gr" cx="127" cy="1266" r="14.5"/><text x="127" y="1272">Phenylalanine</text></g>
<g id="b-leucine"><circle class="gr" cx="292" cy="1289" r="14.5"/><text x="292" y="1295">Leucine</text></g>
<g id="b-proline"><circle class="gr" cx="174" cy="1301" r="14.5"/><text x="174" y="1307">Proline</text></g>
<g id="b-isoleucine"><circle class="gr" cx="237" cy="1309" r="14.5"/><text x="237" y="1315">Isoleucine</text></g>
<g id="b-quinic"><circle class="pk" cx="592" cy="1028" r="14.5"/><text x="592" y="1034">Quinic acid</text></g>
<g id="b-citric"><circle class="pk" cx="541" cy="1053" r="14.5"/><text x="541" y="1059">Citric acid</text></g>
<g id="b-glucaric"><circle class="pk" cx="651" cy="1046" r="14.5"/><text x="651" y="1052">Glucaric acid</text></g>
<g id="b-gluconic"><circle class="pk" cx="700" cy="1069" r="14.5"/><text x="700" y="1075">Gluconic acid</text></g>
<g id="b-shikimic"><circle class="pk" cx="498" cy="1083" r="14.5"/><text x="498" y="1089">Shikimic acid</text></g>
<g id="b-tcq"><circle class="pk" cx="727" cy="1105" r="14.5"/><text x="727" y="1100">5-trans-Coumaroylquinic<tspan x="727" dy="22">acid</tspan></text></g>
<g id="b-ketogluconic"><circle class="pk" cx="466" cy="1127" r="14.5"/><text x="466" y="1122">2-Keto-L-gluconic<tspan x="466" dy="22">acid</tspan></text></g>
<g id="b-thp"><circle class="pk" cx="745" cy="1149" r="14.5"/><text x="745" y="1144">2,4,5-Trihydroxypentanoic<tspan x="745" dy="22">acid</tspan></text></g>
<g id="b-ribonic"><circle class="pk" cx="456" cy="1172" r="14.5"/><text x="456" y="1178">Ribonic acid</text></g>
<g id="b-dhb"><circle class="pk" cx="450" cy="1219" r="14.5"/><text x="450" y="1214">2,3-Dihydroxybutanedioic<tspan x="450" dy="22">acid</tspan></text></g>
<g id="b-salicylic"><circle class="pk" cx="758" cy="1200" r="14.5"/><text x="758" y="1206">Salicylic acid</text></g>
<g id="b-succinic"><circle class="pk" cx="748" cy="1245" r="14.5"/><text x="748" y="1251">Succinic acid</text></g>
<g id="b-ketoglutaric"><circle class="pk" cx="475" cy="1267" r="14.5"/><text x="475" y="1262">2-Ketoglutaric<tspan x="475" dy="22">acid</tspan></text></g>
<g id="b-glyceric"><circle class="pk" cx="725" cy="1288" r="14.5"/><text x="725" y="1294">Glyceric acid</text></g>
<g id="b-erythronic"><circle class="pk" cx="508" cy="1305" r="14.5"/><text x="508" y="1311">Erythronic acid</text></g>
<g id="b-fumaric"><circle class="pk" cx="690" cy="1321" r="14.5"/><text x="690" y="1327">Fumaric acid</text></g>
<g id="b-threonic"><circle class="pk" cx="548" cy="1332" r="14.5"/><text x="548" y="1338">Threonic acid</text></g>
<g id="b-malic"><circle class="pk" cx="645" cy="1340" r="14.5"/><text x="645" y="1346">Malic acid</text></g>
<g id="b-oxalic"><circle class="pk" cx="586" cy="1355" r="14.5"/><text x="586" y="1361">Oxalic acid</text></g>
<g id="b-xylose"><circle class="mg" cx="975" cy="1114" r="14.5"/><text x="975" y="1120">Xylose</text></g>
<g id="b-sucrose"><circle class="mg" cx="906" cy="1126" r="14.5"/><text x="906" y="1132">Sucrose</text></g>
<g id="b-maltose"><circle class="mg" cx="1036" cy="1150" r="14.5"/><text x="1036" y="1156">maltose</text></g>
<g id="b-glucose"><circle class="mg" cx="862" cy="1180" r="14.5"/><text x="862" y="1186">Glucose</text></g>
<g id="b-ribose"><circle class="mg" cx="1060" cy="1215" r="14.5"/><text x="1060" y="1221">Ribose</text></g>
<g id="b-galactose"><circle class="mg" cx="862" cy="1249" r="14.5"/><text x="862" y="1255">Galactose</text></g>
<g id="b-fucose"><circle class="mg" cx="1036" cy="1280" r="14.5"/><text x="1036" y="1286">Fucose</text></g>
<g id="b-mannose"><circle class="mg" cx="906" cy="1303" r="14.5"/><text x="906" y="1309">Mannose</text></g>
<g id="b-fructose"><circle class="mg" cx="975" cy="1315" r="14.5"/><text x="975" y="1321">Fructose</text></g>
<g id="b-mi1p"><circle class="cy" cx="347" cy="1338" r="14.5"/><text x="347" y="1344">myo-Inositol-1-phosphate</text></g>
<g id="b-g6p"><circle class="cy" cx="424" cy="1363" r="14.5"/><text x="424" y="1369">Glucose-6-phosphate</text></g>
<g id="b-m6p"><circle class="cy" cx="287" cy="1394" r="14.5"/><text x="287" y="1400">Mannose-6-phosphate</text></g>
<g id="b-phosphoric"><circle class="cy" cx="460" cy="1433" r="14.5"/><text x="460" y="1439">Phosphoric acid</text></g>
<g id="b-f6p"><circle class="cy" cx="287" cy="1472" r="14.5"/><text x="287" y="1478">Fructose-6-phosphate</text></g>
<g id="b-g3p"><circle class="cy" cx="424" cy="1497" r="14.5"/><text x="424" y="1503">Glycerol-3-phosphate</text></g>
<g id="b-ga3p"><circle class="cy" cx="346" cy="1520" r="14.5"/><text x="346" y="1516">Glyceric<tspan x="346" dy="22">acid-3-phosphate</tspan></text></g>
<g id="b-myoinositol"><circle class="or" cx="731" cy="1390" r="14.5"/><text x="731" y="1396">myo-Inositol</text></g>
<g id="b-mannitol"><circle class="or" cx="814" cy="1390" r="14.5"/><text x="814" y="1396">Mannitol</text></g>
<g id="b-sorbitol"><circle class="or" cx="690" cy="1462" r="14.5"/><text x="690" y="1468">Sorbitol</text></g>
<g id="b-threitol"><circle class="or" cx="857" cy="1462" r="14.5"/><text x="857" y="1468">Threitol</text></g>
<g id="b-xylitol"><circle class="or" cx="731" cy="1534" r="14.5"/><text x="731" y="1540">Xylitol</text></g>
<g id="b-erythritol"><circle class="or" cx="814" cy="1534" r="14.5"/><text x="814" y="1540">Erythritol</text></g>
</g>
</g>
</svg>
